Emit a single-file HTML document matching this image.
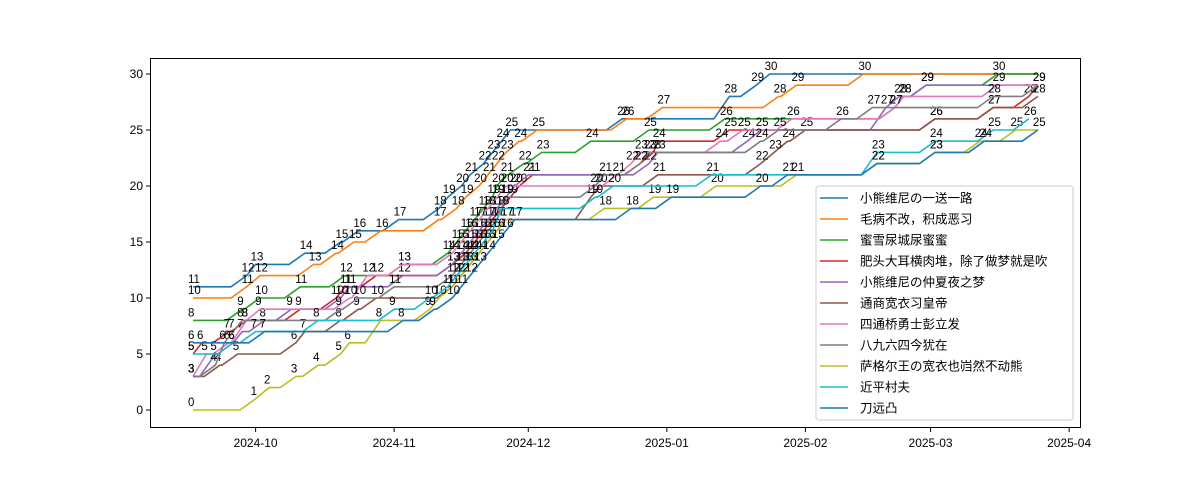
<!DOCTYPE html>
<html><head><meta charset="utf-8"><style>
html,body{margin:0;padding:0;background:#fff;}
svg text{font-family:"Liberation Sans","Noto Sans CJK SC",sans-serif;}
</style></head><body>
<svg id="c" width="1200" height="480" xmlns="http://www.w3.org/2000/svg"></svg>
<script>
const seriesNames=["小熊维尼の一送一路","毛病不改，积成恶习","蜜雪尿城尿蜜蜜","肥头大耳横肉堆，除了做梦就是吹","小熊维尼の仲夏夜之梦","通商宽衣习皇帝","四通桥勇士彭立发","八九六四今犹在","萨格尔王の宽衣也岿然不动熊","近平村夫","刀远凸"];
const s0=[[-14,11],[-2,12],[0,13],[11,14],[19,15],[23,16],[32,17],[41,18],[43,19],[46,20],[48,21],[51,22],[53,23],[55,24],[57,25],[82,26],[106,28],[112,29],[115,30],[175,30]];
const s1=[[-14,10],[-2,11],[1,12],[13,13],[18,14],[22,15],[28,16],[41,17],[45,18],[47,19],[50,20],[52,21],[54,22],[56,23],[59,24],[63,25],[83,26],[91,27],[117,28],[121,29],[136,30],[175,30]];
const s2=[[-14,8],[-3,9],[1,10],[10,11],[20,12],[33,13],[43,14],[45,15],[47,16],[49,17],[51,18],[53,19],[54,20],[56,21],[60,22],[64,23],[75,24],[88,25],[105,26],[143,27],[145,28],[150,29],[166,30],[175,30]];
const s3=[[-14,5],[-12,6],[-6,7],[-2,8],[10,9],[18,10],[20,11],[27,12],[44,13],[47,14],[49,15],[51,16],[53,17],[55,18],[57,19],[59,20],[62,21],[86,22],[89,23],[90,24],[106,25],[152,26],[165,27],[173,28],[175,29]];
const s4=[[-14,3],[-9,5],[-5,6],[-3,7],[2,8],[8,9],[19,10],[21,11],[33,12],[44,13],[46,14],[48,15],[50,16],[52,17],[54,18],[56,19],[58,20],[61,21],[88,22],[90,23],[110,24],[113,25],[141,27],[144,28],[150,29],[175,29]];
const s5=[[-14,3],[-8,4],[-4,5],[9,6],[11,7],[19,8],[23,9],[27,10],[44,11],[46,12],[48,13],[50,14],[52,15],[54,16],[56,17],[75,19],[77,20],[90,21],[113,22],[116,23],[119,24],[123,25],[152,26],[165,27],[175,28]];
const s6=[[-14,3],[-11,5],[-6,6],[-2,8],[1,9],[21,10],[25,12],[33,13],[44,14],[46,15],[48,16],[50,17],[52,18],[54,19],[56,20],[81,21],[84,22],[86,23],[104,24],[109,25],[120,26],[143,27],[145,28],[166,29],[175,29]];
const s7=[[-14,3],[-9,4],[-7,6],[-5,7],[-3,8],[19,9],[23,10],[31,11],[44,12],[46,13],[48,14],[50,15],[52,16],[54,17],[56,19],[76,20],[78,21],[86,22],[88,23],[113,24],[117,25],[131,26],[138,27],[165,28],[175,29]];
const s8=[[-14,0],[0,1],[3,2],[9,3],[14,4],[19,5],[21,6],[28,8],[39,9],[41,10],[44,11],[46,12],[48,13],[50,14],[52,15],[54,16],[56,17],[78,18],[89,19],[103,20],[121,21],[139,22],[152,23],[162,24],[170,25],[175,25]];
const s9=[[-14,5],[-5,6],[0,7],[14,8],[31,9],[39,10],[43,11],[45,12],[47,13],[49,14],[51,15],[53,16],[55,18],[76,19],[80,20],[102,21],[139,23],[152,24],[165,25],[173,26]];
const s10=[[-14,6],[2,7],[33,8],[40,9],[44,10],[46,11],[48,12],[50,13],[52,14],[54,15],[56,16],[58,17],[84,18],[93,19],[113,20],[119,21],[139,22],[152,23],[163,24],[175,25]];
const allSeries=[s0,s1,s2,s3,s4,s5,s6,s7,s8,s9,s10];
const xTickLabels=["2024-10","2024-11","2024-12","2025-01","2025-02","2025-03","2025-04"];
const xTickDays=[0,31,61,92,123,151,182];
const yTicks=[0,5,10,15,20,25,30];
const colors=["#1f77b4","#ff7f0e","#2ca02c","#d62728","#9467bd","#8c564b","#e377c2","#7f7f7f","#bcbd22","#17becf","#1f77b4"];
const NS="http://www.w3.org/2000/svg";
const svg=document.getElementById('c');
const X=d=>255.6+4.47*d;
const Y=v=>410-11.2*v;
function el(t,a,p){const e=document.createElementNS(NS,t);for(const k in a)e.setAttribute(k,a[k]);(p||svg).appendChild(e);return e;}
const RAMP=3.5;
allSeries.forEach((s,i)=>{
  const g=el('g',{});
  
  
  let pts=[[X(s[0][0]),Y(s[0][1])]];
  for(let k=1;k<s.length;k++){
    if(s[k][1]!==s[k-1][1]){
      const gap=s[k][0]-s[k-1][0];
      if(gap>RAMP)pts.push([X(s[k][0]-RAMP),Y(s[k-1][1])]);
    }
    pts.push([X(s[k][0]),Y(s[k][1])]);
  }
  const p=el('polyline',{points:pts.map(q=>q.join(',')).join(' '),fill:'none',stroke:colors[i],'stroke-width':1.6},g);
  
  
  s.forEach((q,k)=>{
    if(k>0&&q[1]===s[k-1][1])return;
    const t=el('text',{x:X(q[0])-5,y:Y(q[1])-4,'font-size':11.5,fill:'#000'},g);
    t.textContent=q[1];
    
    
  });
});
const fr=el('rect',{x:150.5,y:58.5,width:930,height:369,fill:'none',stroke:'#000','stroke-width':1});


xTickDays.forEach((d,i)=>{
  const l=el('line',{x1:X(d),x2:X(d),y1:428,y2:432,stroke:'#000'});
  
  
  const t=el('text',{x:X(d),y:447,'font-size':12,'text-anchor':'middle'});
  t.textContent=xTickLabels[i];
  
  
});
yTicks.forEach(v=>{
  const l=el('line',{x1:146,x2:150,y1:Y(v),y2:Y(v),stroke:'#000'});
  
  
  const t=el('text',{x:143,y:Y(v)+4,'font-size':12,'text-anchor':'end'});
  t.textContent=v;
  
  
});
const lg=el('g',{});


const lr=el('rect',{x:816,y:186,width:257,height:234,rx:3,fill:'#fff','fill-opacity':0.85,stroke:'#ccc'},lg);


seriesNames.forEach((n,i)=>{
  const y=198+21*i;
  const l=el('line',{x1:820,x2:848,y1:y,y2:y,stroke:colors[i],'stroke-width':1.6},lg);
  
  
  const t=el('text',{x:860,y:y+4.5,'font-size':12.5},lg);
  t.textContent=n;
  
  
});
</script>
</body></html>
